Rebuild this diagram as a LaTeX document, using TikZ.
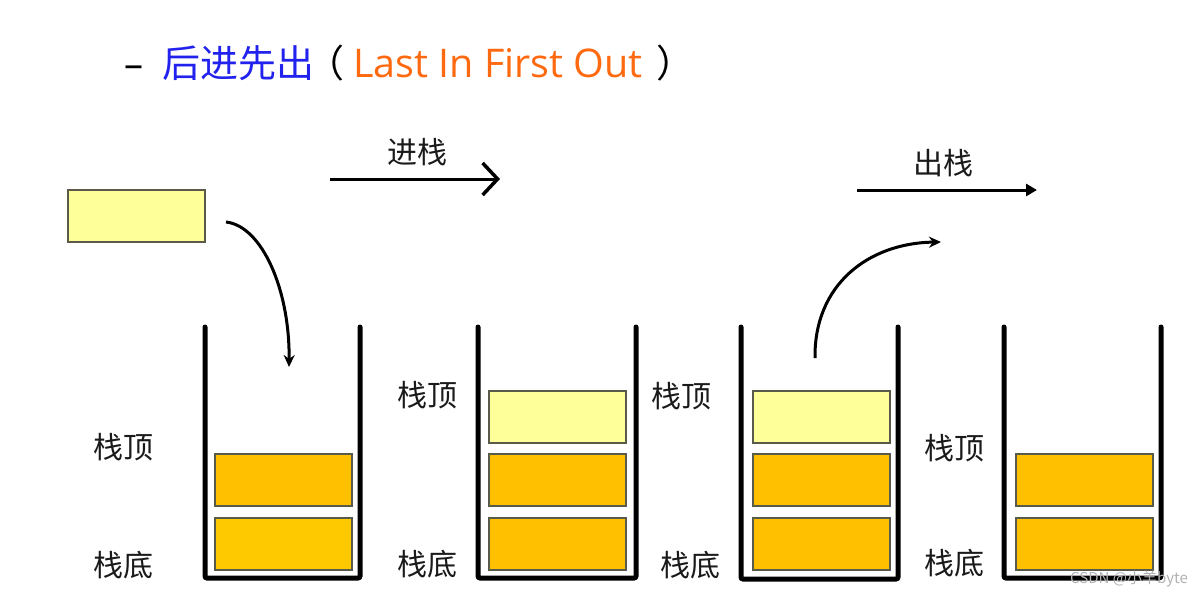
\documentclass[tikz,border=0pt]{standalone}
\usepackage{fontspec}
\setmainfont{Noto Sans CJK SC}
\newfontfamily\latinfont{Open Sans}
\usetikzlibrary{arrows.meta}
\definecolor{titleblue}{HTML}{2222EE}
\definecolor{titleorange}{HTML}{FF6A10}
\definecolor{blkorange}{HTML}{FFC000}
\definecolor{blkyellow}{HTML}{FFFF99}
\definecolor{blkedge}{HTML}{5A5A4A}
\definecolor{txt}{HTML}{1A1A1A}
\begin{document}
\begin{tikzpicture}[x=1pt,y=-1pt,
  blk/.style={draw=blkedge, line width=1.5pt, minimum width=137pt, minimum height=52pt, inner sep=0pt, anchor=north west},
  full/.style={blk, fill=blkorange},
  newb/.style={blk, fill=blkyellow},
  wall/.style={line width=5pt, rounded corners=2pt, line cap=round},
  lbl/.style={font=\fontsize{30}{30}\selectfont, text=txt, inner sep=0pt},
  ttl/.style={font=\fontsize{38}{38}\selectfont, inner sep=0pt, anchor=base west},
  curv/.style={line width=3pt, -{Stealth[length=12pt,width=11pt]}},
]
\useasboundingbox (0,0) rectangle (1202,597);
\fill[white] (0,0) rectangle (1202,597);

% title
\node[ttl, text=black, font=\latinfont\fontsize{38}{38}\selectfont] (dash) at (124,77) {–};
\node[ttl, text=titleblue] (cn) at (162,77) {后进先出};
\node[ttl, text=black] (lp) at (306,77) {（};
\node[ttl, text=titleorange, font=\latinfont\fontsize{39.5}{39.5}\selectfont] (en) at (353,77) {Last In First Out};
\node[ttl, text=black] (rp) at (656,77) {）};

% push / pop headers
\node[lbl] (pushlbl) at (417,152) {进栈};
\coordinate (pushs) at (330,179);
\coordinate (pushe) at (500,179);
\draw[line width=3pt, -{Straight Barb[length=15pt,width=32pt,line width=3.5pt]}] (pushs) -- (pushe);
\node[lbl] (poplbl) at (943,163) {出栈};
\coordinate (pops) at (857,190);
\coordinate (pope) at (1037,190);
\draw[line width=3pt, -{Triangle[length=11pt,width=12pt]}] (pops) -- (pope);

% incoming block
\node[newb] (inb) at (67,189) {};

% containers
\draw[wall] (205,327) -- (205,578) -- (360,578) -- (360,327);
\draw[wall] (478,327) -- (478,578) -- (636,578) -- (636,327);
\draw[wall] (741,327) -- (741,579) -- (898,579) -- (898,327);
\draw[wall] (1004,327) -- (1004,578) -- (1161,578) -- (1161,327);

% stack 1
\node[full] (a2) at (214,453) {};
\node[full, fill=blkorange!85!yellow] (a1) at (214,517) {};
% stack 2
\node[newb] (b3) at (488,390) {};
\node[full] (b2) at (488,453) {};
\node[full] (b1) at (488,517) {};
% stack 3
\node[newb] (c3) at (752,390) {};
\node[full] (c2) at (752,453) {};
\node[full] (c1) at (752,517) {};
% stack 4
\node[full] (d2) at (1015,453) {};
\node[full] (d1) at (1015,517) {};

% labels
\node[lbl] (t1) at (123,447) {栈顶};
\node[lbl] (bo1) at (123,565) {栈底};
\node[lbl] (t2) at (427,395) {栈顶};
\node[lbl] (bo2) at (427,564) {栈底};
\node[lbl] (t3) at (681,396) {栈顶};
\node[lbl] (bo3) at (690,565) {栈底};
\node[lbl] (t4) at (954,448) {栈顶};
\node[lbl] (bo4) at (954,563) {栈底};

% curved arrows
\coordinate (in1) at (226,222);
\coordinate (in2) at (289,367);
\draw[curv] (in1) .. controls (262,226) and (290,290) .. (in2);
\coordinate (out1) at (815,358);
\coordinate (out2) at (941,242);
\draw[curv] (out1) .. controls (814,285) and (868,243) .. (out2);

% watermark
\node[font=\fontsize{15}{15}\selectfont, text=black!30, inner sep=0pt, anchor=east] (wm) at (1188,579) {CSDN @小羊byte};
\end{tikzpicture}
\end{document}
